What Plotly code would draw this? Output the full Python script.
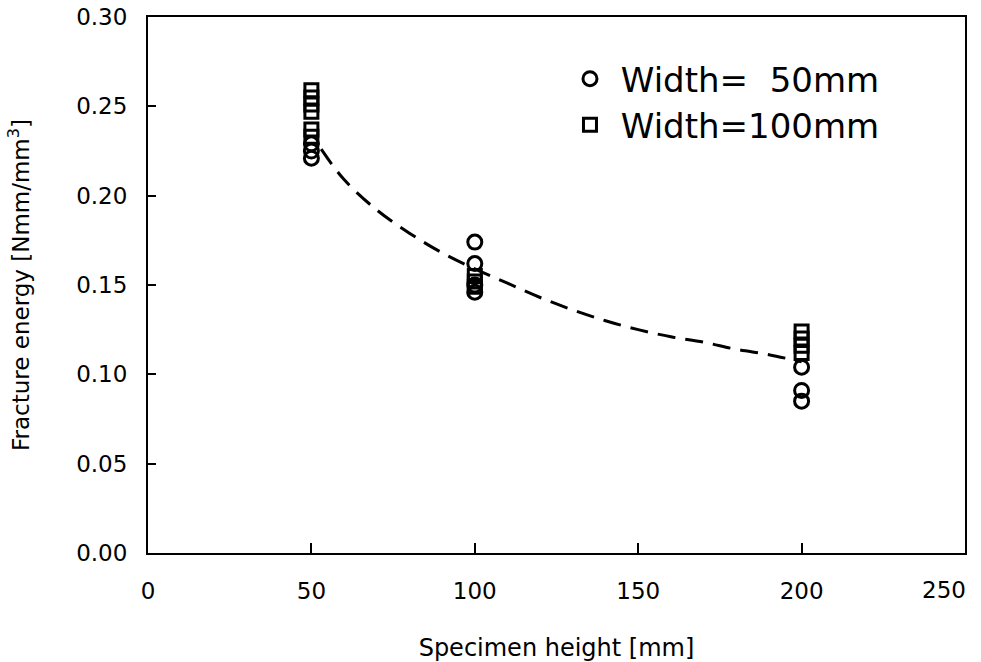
import plotly.graph_objects as go

# Data
x_w50 = [50, 50, 50, 100, 100, 100, 100, 200, 200, 200]
y_w50 = [0.229, 0.225, 0.221, 0.174, 0.162, 0.150, 0.146, 0.104, 0.091, 0.085]

x_w100 = [50, 50, 50, 50, 50, 50, 100, 100, 100, 200, 200, 200, 200]
y_w100 = [0.259, 0.255, 0.251, 0.247, 0.237, 0.233, 0.155, 0.152, 0.149, 0.124, 0.120, 0.116, 0.112]

x_fit = [53, 60, 70, 80, 90, 100, 110, 120, 130, 140, 150, 160, 170, 180, 190, 200]
y_fit = [0.226, 0.209, 0.192, 0.179, 0.168, 0.159, 0.151, 0.143, 0.136, 0.130, 0.125, 0.121, 0.118, 0.114, 0.111, 0.107]

x_ticks = [0, 50, 100, 150, 200, 250]
x_ticklabels = ["0", "50", "100", "150", "200", ""]
x_last_label = "250"   # drawn right-aligned at the axis end, as in the reference
y_ticks = [0.00, 0.05, 0.10, 0.15, 0.20, 0.25, 0.30]
y_ticklabels = ["0.00", "0.05", "0.10", "0.15", "0.20", "0.25", "0.30"]

FONT = "DejaVu Sans"

fig = go.Figure()
fig.add_trace(go.Scatter(
    x=x_fit, y=y_fit, mode="lines", showlegend=False,
    line=dict(color="black", width=3, dash="18px,10px"), line_shape="spline"))
fig.add_trace(go.Scatter(
    x=x_w50, y=y_w50, mode="markers", name=" Width=  50mm", legend="legend",
    marker=dict(symbol="circle-open", size=14, color="black", line=dict(width=3))))
fig.add_trace(go.Scatter(
    x=x_w100, y=y_w100, mode="markers", name=" Width=100mm", legend="legend2",
    marker=dict(symbol="square-open", size=13, color="black", line=dict(width=3))))

axis_common = dict(
    showline=True, linecolor="black", linewidth=2, mirror=True, automargin=False,
    ticks="inside", tickcolor="black", tickwidth=2, showgrid=False, zeroline=False,
    tickfont=dict(family=FONT, size=23, color="black"),
)

fig.update_xaxes(
    range=[0, 250], tickvals=x_ticks, ticktext=x_ticklabels,
    ticklen=10, ticklabelstandoff=16,
    title=dict(text="Specimen height [mm]", font=dict(family=FONT, size=24, color="black"), standoff=62),
    **axis_common)
fig.update_yaxes(
    range=[0, 0.30], tickvals=y_ticks, ticktext=y_ticklabels,
    ticklen=8, ticklabelstandoff=14,
    title=dict(text="Fracture energy [Nmm/mm<sup>3</sup>]", font=dict(family=FONT, size=23, color="black"), standoff=40),
    **axis_common)

fig.add_annotation(
    x=x_ticks[-1], xref="x", y=0, yref="paper", text=x_last_label, showarrow=False,
    xanchor="right", yanchor="middle", xshift=3, yshift=-37,
    font=dict(family=FONT, size=23, color="black"))

legend_common = dict(
    font=dict(family=FONT, size=34, color="black"),
    bgcolor="rgba(0,0,0,0)", xanchor="left", yanchor="middle",
)
fig.update_layout(
    width=981, height=662,
    margin=dict(l=148, r=16, t=17, b=109, autoexpand=False),
    paper_bgcolor="white", plot_bgcolor="white",
    legend=dict(x=0.5165, y=0.8842, **legend_common),
    legend2=dict(x=0.5165, y=0.7984, **legend_common),
)

fig.write_html("out.html")
